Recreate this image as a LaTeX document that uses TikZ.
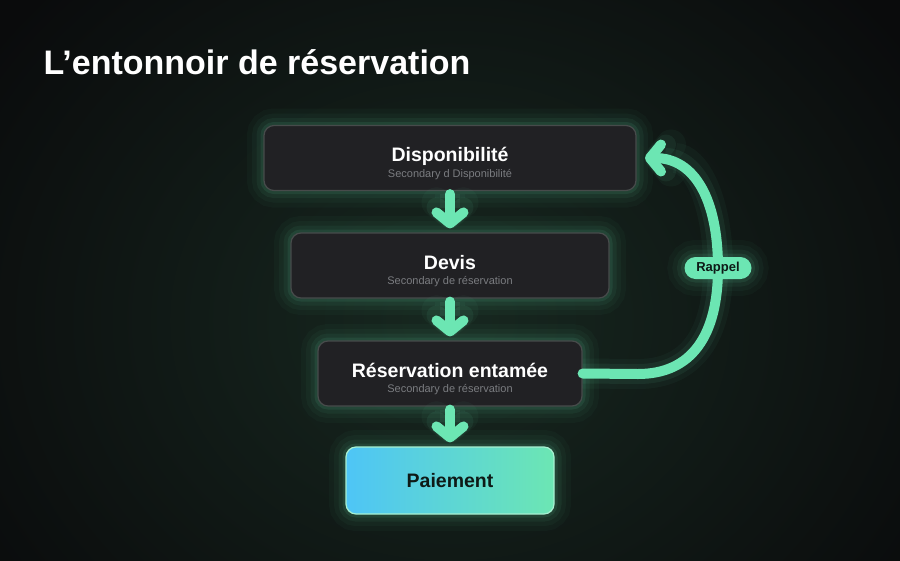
\documentclass[tikz,border=0pt]{standalone}
\usepackage{fontspec}
\setmainfont{Liberation Sans}
\usetikzlibrary{shapes,positioning,arrows.meta}
\definecolor{fond}{HTML}{0A0B0C}
\definecolor{halo}{HTML}{172820}
\definecolor{carte}{HTML}{212124}
\definecolor{bord}{HTML}{474B4B}
\definecolor{menthe}{HTML}{6CE6B3}
\definecolor{ciel}{HTML}{4EC5F6}
\definecolor{gris}{HTML}{7A7C80}
\definecolor{encre}{HTML}{0E1A17}
\newcommand{\titre}[1]{{\fontsize{19.5}{22}\selectfont\bfseries\rule{0pt}{26pt}#1}}
\newcommand{\sous}[1]{{\fontsize{11}{12}\selectfont\color{gris}#1}}
\tikzset{
  lueur/.style={preaction={draw=menthe, draw opacity=0.03, line width=34pt},
                preaction={draw=menthe, draw opacity=0.04, line width=24pt},
                preaction={draw=menthe, draw opacity=0.06, line width=15pt},
                preaction={draw=menthe, draw opacity=0.09, line width=7pt}},
  etape/.style={lueur, draw=bord, line width=1.2pt, fill=carte, rounded corners=10pt,
                text=white, align=center, minimum height=65pt, inner sep=0pt},
  fleche/.style={menthe, line width=10pt, line cap=round,
                 -{Straight Barb[length=11pt, width=27pt, round]},
                 preaction={draw=menthe, draw opacity=0.04, line width=30pt},
                 preaction={draw=menthe, draw opacity=0.07, line width=20pt}},
  pastille/.style={lueur, fill=menthe, rounded corners=11pt, minimum width=67pt,
                   minimum height=22pt, inner sep=0pt, text=encre,
                   font=\fontsize{13}{15}\selectfont\bfseries}
}
\begin{document}
\begin{tikzpicture}[x=1pt, y=-1pt]
        \useasboundingbox (0,0) rectangle (900,560);
        % fond et halo
        \fill[fond] (0,0) rectangle (900,560);
        \begin{scope}
            \clip (0,0) rectangle (900,560);
            \shade[inner color=halo, outer color=fond] (450,320) ellipse (560 and 480);
        \end{scope}
        \node[anchor=west, text=white, font=\fontsize{34}{40}\selectfont\bfseries] (Titre) at (40,62) {L’entonnoir de réservation};
        % etapes
        \node[etape, minimum width=372pt] (Dispo) at (450,158) {\titre{Disponibilité}\\[3pt]\sous{Secondary d Disponibilité}};
        \node[etape, minimum width=318pt] (Devis) at (450,265.5) {\titre{Devis}\\[3pt]\sous{Secondary de réservation}};
        \node[etape, minimum width=264pt] (Resa)  at (450,373.5) {\titre{Réservation entamée}\\[3pt]\sous{Secondary de réservation}};
        \node[etape, minimum width=208pt, minimum height=67pt, draw=menthe!60!white, shading=axis,
              left color=ciel, right color=menthe, text=encre] (Paie) at (450,480.5)
              {{\fontsize{19.5}{22}\selectfont\bfseries Paiement}};
        % fleches
        \draw[fleche, shorten <=3pt, shorten >=4pt] (Dispo) -- (Devis);
        \draw[fleche, shorten <=3pt, shorten >=4pt] (Devis) -- (Resa);
        \draw[fleche, shorten <=3pt, shorten >=4pt] (Resa)  -- (Paie);
        % boucle de rappel
        \coordinate (Rp) at (718,268);
        \coordinate (Fin) at (645,158);
        \draw[fleche] (Resa.east) -- (638,374) .. controls (692,374) and (718,335) .. (Rp)
              .. controls (718,200) and (695,158) .. (Fin);
        \node[pastille] (Rappel) at (Rp) {Rappel};
\end{tikzpicture}
\end{document}
